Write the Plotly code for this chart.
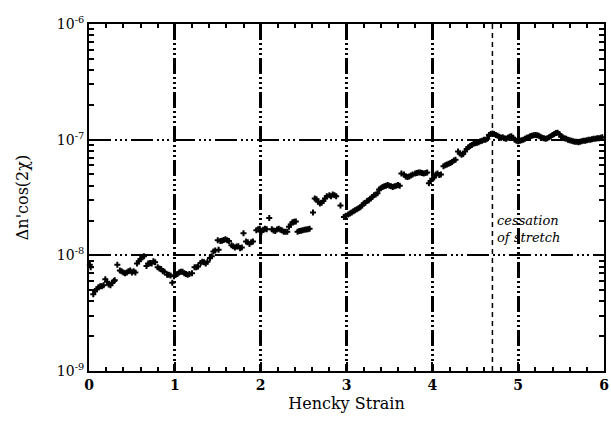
import plotly.graph_objects as go

strain = [0.01,0.02,0.05,0.07,0.09,0.11,0.13,0.15,0.17,0.19,0.21,0.23,0.25,0.27,0.29,0.30,
          0.33,0.36,0.38,0.40,0.42,0.44,0.46,0.48,0.50,0.52,0.54,0.56,0.58,0.60,0.62,0.64,
          0.67,0.69,0.71,0.73,0.75,0.77,0.80,0.82,0.84,0.86,0.88,0.91,0.93,0.95,0.97,0.99,
          1.01,1.03,1.05,1.07,1.09,1.11,1.13,1.15,1.17,1.20,1.23,1.25,1.27,1.30,1.32,1.34,
          1.36,1.38,1.41,1.43,1.45,1.47,1.50,1.51,1.53,1.55,1.57,1.59,1.61,1.63,1.66,1.68,
          1.70,1.72,1.74,1.76,1.78,1.80,1.83,1.85,1.87,1.89,1.91,1.95,1.97,1.99,2.01,2.03,
          2.05,2.07,2.10,2.13,2.15,2.17,2.19,2.21,2.23,2.25,2.27,2.29,2.31,2.33,2.35,2.37,
          2.39,2.41,2.43,2.45,2.47,2.49,2.51,2.53,2.55,2.57,2.61,2.63,2.65,2.67,2.69,2.71,
          2.73,2.75,2.77,2.80,2.82,2.84,2.86,2.88,2.93,2.97,2.99,3.02,3.04,3.06,3.08,3.10,
          3.12,3.14,3.16,3.18,3.20,3.22,3.24,3.26,3.28,3.30,3.32,3.34,3.36,3.38,3.40,3.42,
          3.44,3.46,3.48,3.50,3.52,3.54,3.56,3.58,3.60,3.62,3.64,3.67,3.69,3.71,3.73,3.75,
          3.77,3.80,3.82,3.84,3.86,3.88,3.90,3.92,3.94,3.96,3.98,4.00,4.02,4.04,4.06,4.08,
          4.10,4.13,4.15,4.17,4.19,4.21,4.23,4.25,4.27,4.30,4.32,4.34,4.36,4.38,4.40,4.42,
          4.44,4.46,4.48,4.50,4.52,4.54,4.56,4.58,4.60,4.62,4.64,4.66,4.68,4.70,4.72,4.74,
          4.76,4.78,4.80,4.82,4.84,4.86,4.88,4.90,4.92,4.94,4.96,4.98,5.00,5.02,5.04,5.06,
          5.08,5.10,5.12,5.14,5.16,5.18,5.20,5.22,5.24,5.26,5.28,5.30,5.32,5.34,5.36,5.38,
          5.40,5.42,5.44,5.46,5.48,5.50,5.52,5.54,5.56,5.58,5.60,5.62,5.64,5.66,5.68,5.70,
          5.72,5.74,5.76,5.78,5.80,5.82,5.84,5.86,5.88,5.90,5.92,5.94,5.96,5.98]

birefringence = [8.3e-9,7.9e-9,4.6e-9,4.9e-9,5.1e-9,5.3e-9,5.4e-9,5.4e-9,5.5e-9,6.2e-9,5.9e-9,5.6e-9,5.5e-9,5.8e-9,6.0e-9,6.1e-9,
          8.3e-9,7.4e-9,7.3e-9,7.1e-9,7.0e-9,7.1e-9,7.3e-9,7.4e-9,7.1e-9,7.3e-9,7.1e-9,8.5e-9,8.9e-9,9.3e-9,9.6e-9,9.8e-9,
          8.1e-9,8.5e-9,8.6e-9,8.5e-9,8.9e-9,8.7e-9,7.9e-9,7.7e-9,7.6e-9,7.3e-9,7.2e-9,6.8e-9,6.8e-9,6.7e-9,5.8e-9,6.6e-9,
          6.8e-9,6.9e-9,7.1e-9,7.2e-9,7.2e-9,7.0e-9,6.9e-9,6.8e-9,6.9e-9,7.0e-9,7.9e-9,7.9e-9,8.0e-9,8.6e-9,8.8e-9,8.7e-9,
          8.5e-9,8.8e-9,9.5e-9,9.8e-9,1.08e-8,1.1e-8,1.35e-8,1.12e-8,1.33e-8,1.34e-8,1.36e-8,1.38e-8,1.35e-8,1.33e-8,1.22e-8,1.2e-8,
          1.17e-8,1.19e-8,1.2e-8,1.15e-8,1.17e-8,1.55e-8,1.32e-8,1.3e-8,1.25e-8,1.3e-8,1.32e-8,1.65e-8,1.68e-8,1.7e-8,1.6e-8,1.66e-8,
          1.7e-8,1.68e-8,2.1e-8,1.68e-8,1.64e-8,1.62e-8,1.67e-8,1.7e-8,1.66e-8,1.64e-8,1.6e-8,1.6e-8,1.6e-8,1.77e-8,1.85e-8,1.93e-8,
          1.95e-8,1.96e-8,1.6e-8,1.62e-8,1.63e-8,1.65e-8,1.66e-8,1.67e-8,1.68e-8,1.7e-8,2.35e-8,3.1e-8,3.05e-8,2.9e-8,2.8e-8,2.85e-8,
          2.95e-8,3.1e-8,3.25e-8,3.3e-8,3.25e-8,3.35e-8,3.3e-8,3.25e-8,2.7e-8,2.15e-8,2.2e-8,2.25e-8,2.3e-8,2.35e-8,2.4e-8,2.45e-8,
          2.5e-8,2.55e-8,2.6e-8,2.7e-8,2.8e-8,2.85e-8,2.95e-8,3.0e-8,3.1e-8,3.2e-8,3.3e-8,3.35e-8,3.45e-8,3.7e-8,3.8e-8,3.9e-8,
          3.95e-8,4.0e-8,4.05e-8,4.0e-8,3.95e-8,3.9e-8,3.95e-8,4.0e-8,4.05e-8,4.0e-8,5.1e-8,5.0e-8,4.8e-8,4.75e-8,4.8e-8,4.9e-8,
          5.0e-8,5.1e-8,5.15e-8,5.2e-8,5.2e-8,5.15e-8,5.1e-8,5.15e-8,5.2e-8,4.2e-8,4.4e-8,4.6e-8,4.7e-8,5.0e-8,5.1e-8,4.95e-8,
          5.0e-8,5.9e-8,6.0e-8,6.1e-8,6.2e-8,6.3e-8,6.4e-8,6.6e-8,6.7e-8,7.9e-8,7.6e-8,7.4e-8,7.5e-8,7.9e-8,8.3e-8,8.6e-8,
          8.8e-8,9.0e-8,9.2e-8,9.3e-8,9.4e-8,9.5e-8,9.7e-8,9.8e-8,1.0e-7,1.0e-7,1.02e-7,1.1e-7,1.12e-7,1.13e-7,1.12e-7,1.1e-7,
          1.08e-7,1.06e-7,1.04e-7,1.05e-7,1.03e-7,1.02e-7,1.04e-7,1.06e-7,1.07e-7,1.04e-7,1.0e-7,9.8e-8,9.7e-8,9.8e-8,9.9e-8,1.0e-7,
          1.02e-7,1.04e-7,1.05e-7,1.07e-7,1.08e-7,1.09e-7,1.1e-7,1.09e-7,1.08e-7,1.06e-7,1.04e-7,1.03e-7,1.02e-7,1.03e-7,1.05e-7,1.07e-7,
          1.1e-7,1.12e-7,1.14e-7,1.15e-7,1.12e-7,1.06e-7,1.05e-7,1.03e-7,1.02e-7,1.0e-7,9.9e-8,9.8e-8,9.7e-8,9.6e-8,9.6e-8,9.5e-8,
          9.6e-8,9.7e-8,9.8e-8,9.8e-8,9.9e-8,1.0e-7,1.0e-7,1.01e-7,1.02e-7,1.02e-7,1.03e-7,1.03e-7,1.04e-7,1.05e-7]

x_ticks = [0, 1, 2, 3, 4, 5, 6]
x_ticklabels = ["<b>0</b>", "<b>1</b>", "<b>2</b>", "<b>3</b>", "<b>4</b>", "<b>5</b>", "<b>6</b>"]
y_ticks = [1e-9, 1e-8, 1e-7, 1e-6]
y_ticklabels = ["10<sup>-9</sup>", "10<sup>-8</sup>", "10<sup>-7</sup>", "10<sup>-6</sup>"]
cessation_strain = 4.7
annotation_text = "<i>cessation<br>of stretch</i>"

FONT = "DejaVu Serif, Liberation Serif, serif"

fig = go.Figure()
fig.add_trace(go.Scatter(
    x=strain, y=birefringence, mode="markers",
    marker=dict(symbol="cross", size=5, color="black", line=dict(width=0)),
    showlegend=False, cliponaxis=False))

fig.add_shape(type="line", xref="x", yref="paper",
              x0=cessation_strain, x1=cessation_strain, y0=0, y1=1,
              line=dict(color="black", width=1.5, dash="5px,4px"))

fig.add_annotation(x=cessation_strain, y=-7.77, xref="x", yref="y",
                   text=annotation_text, showarrow=False, xanchor="left", yanchor="middle",
                   xshift=3, align="left",
                   font=dict(family=FONT, size=13, color="black"))

fig.update_layout(
    width=611, height=422,
    margin=dict(l=89, r=2, t=24, b=51),
    paper_bgcolor="white", plot_bgcolor="white",
    font=dict(family=FONT, color="black"),
    xaxis=dict(
        range=[0, 6], tickvals=x_ticks, ticktext=x_ticklabels,
        ticklabeloverflow="allow",
        ticks="inside", ticklen=9, tickwidth=2, tickcolor="black",
        showline=True, linewidth=2, linecolor="black", mirror="ticks",
        showgrid=True, gridcolor="black", gridwidth=2.5,
        griddash="16px,3px,2px,3px,2px,3px,2px,3px",
        minor=dict(ticks="inside", ticklen=4, tickwidth=2, tickcolor="black", dtick=0.2, showgrid=False),
        zeroline=False,
        tickfont=dict(family=FONT, size=14, color="black"),
        title=dict(text="Hencky Strain", font=dict(family=FONT, size=16, color="black"), standoff=6),
    ),
    yaxis=dict(
        type="log", range=[-9, -6], tickvals=y_ticks, ticktext=y_ticklabels,
        ticks="inside", ticklen=9, tickwidth=2, tickcolor="black",
        showline=True, linewidth=2, linecolor="black", mirror="ticks",
        showgrid=True, gridcolor="black", gridwidth=1.5,
        griddash="22px,4px,2px,3px,2px,3px,2px,4px",
        minor=dict(ticks="inside", ticklen=5, tickwidth=2, tickcolor="black", dtick="D1", showgrid=False),
        zeroline=False,
        tickfont=dict(family=FONT, size=14, color="black"),
        title=dict(text="Δn'cos(2χ)", font=dict(family=FONT, size=16, color="black"), standoff=24),
    ),
)

fig.write_html("out.html")
